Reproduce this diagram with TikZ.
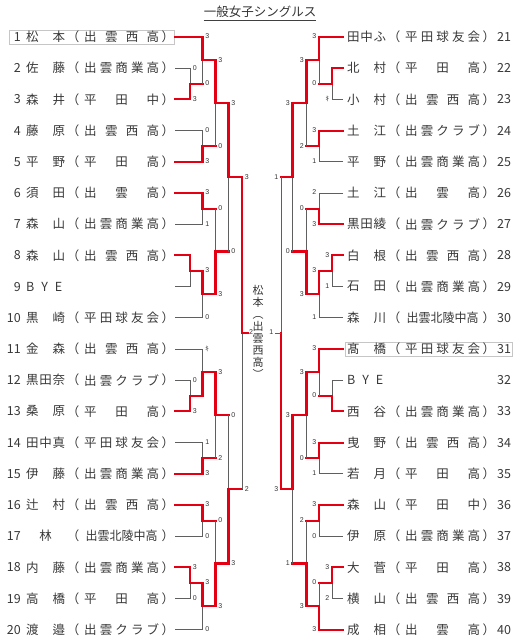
\documentclass[tikz,border=0pt]{standalone}
\usepackage{fontspec}
\usepackage{graphicx}
\setmainfont{Noto Sans CJK JP}
\newfontfamily\jpfont{Noto Sans CJK JP}
\newfontfamily\scfont{Liberation Sans}
\usetikzlibrary{calc}
\definecolor{winred}{RGB}{228,0,18}
\definecolor{losegray}{RGB}{95,95,95}
\tikzset{
  win/.style={draw=winred, line width=2.1pt, line cap=rect},
  lose/.style={draw=losegray, line width=0.8pt},
  score/.style={font=\scfont\fontsize{7}{7}\selectfont, text=black!80, inner sep=0pt},
  ptext/.style={font=\fontsize{12.5}{12.5}\selectfont, text=black!78, inner sep=0pt},
  hl/.style={draw=gray!45, line width=0.6pt},
}
\newcommand\NM[1]{\makebox[39pt][s]{#1}}
\newcommand\SC[1]{\makebox[75pt][s]{#1}}
\newcommand\kiken{{\jpfont\fontsize{7}{7}\selectfont ｷ}}
\newcommand\Lrow[3]{%
  \pgfmathsetmacro\yy{37+(#1-1)*31.2}%
  \node[ptext, anchor=east] (num#1) at (21,\yy) {#1};
  \node[ptext, anchor=west] (nam#1) at (26,\yy) {#2};
  \node[ptext, anchor=east] (lpa#1) at (79.5,\yy) {（};
  \node[ptext, anchor=west] (sch#1) at (84,\yy) {\SC{#3}};
  \node[ptext, anchor=west] (rpa#1) at (161.5,\yy) {）};
  \coordinate (p#1) at (175,\yy);
}
\newcommand\Rrow[3]{%
  \pgfmathsetmacro\yy{37+(#1-21)*31.2}%
  \node[ptext, anchor=west] (nam#1) at (347,\yy) {#2};
  \node[ptext, anchor=east] (lpa#1) at (400.5,\yy) {（};
  \node[ptext, anchor=west] (sch#1) at (405,\yy) {\SC{#3}};
  \node[ptext, anchor=west] (rpa#1) at (482.5,\yy) {）};
  \node[ptext, anchor=west] (num#1) at (497,\yy) {#1};
  \coordinate (p#1) at (343,\yy);
}
\newcommand\Lbye[1]{%
  \pgfmathsetmacro\yy{37+(#1-1)*31.2}%
  \node[ptext, anchor=east] (num#1) at (21,\yy) {#1};
  \node[ptext, anchor=west] (nam#1) at (26,\yy) {\makebox[36pt][s]{B\hfill Y\hfill E}};
  \coordinate (p#1) at (175,\yy);
}
\newcommand\Rbye[1]{%
  \pgfmathsetmacro\yy{37+(#1-21)*31.2}%
  \node[ptext, anchor=west] (nam#1) at (347,\yy) {\makebox[36pt][s]{B\hfill Y\hfill E}};
  \node[ptext, anchor=west] (num#1) at (497,\yy) {#1};
  \coordinate (p#1) at (343,\yy);
}
% match: #1 column, #2 top, #3 bottom, #4 winner 1/2, #5 out, #6 loser line style, #7 #8 scores
\newcommand\mL[8]{%
  \coordinate (#5) at ($(#2 -| #1)!0.5!(#3 -| #1)$);
  \ifnum#4=1
    \draw[#6] (#3) -- (#3 -| #1);
    \draw[lose] (#5) -- (#3 -| #1);
    \draw[win] (#2) -- (#2 -| #1) -- (#5);
  \else
    \draw[#6] (#2) -- (#2 -| #1);
    \draw[lose] (#5) -- (#2 -| #1);
    \draw[win] (#3) -- (#3 -| #1) -- (#5);
  \fi
  \node[score, anchor=west] (#5t) at ($(#2 -| #1)+(2.6,-0.5)$) {#7};
  \node[score, anchor=west] (#5b) at ($(#3 -| #1)+(2.6,-0.5)$) {#8};
}
\newcommand\mR[8]{%
  \coordinate (#5) at ($(#2 -| #1)!0.5!(#3 -| #1)$);
  \ifnum#4=1
    \draw[#6] (#3) -- (#3 -| #1);
    \draw[lose] (#5) -- (#3 -| #1);
    \draw[win] (#2) -- (#2 -| #1) -- (#5);
  \else
    \draw[#6] (#2) -- (#2 -| #1);
    \draw[lose] (#5) -- (#2 -| #1);
    \draw[win] (#3) -- (#3 -| #1) -- (#5);
  \fi
  \node[score, anchor=east] (#5t) at ($(#2 -| #1)+(-2.6,-0.5)$) {#7};
  \node[score, anchor=east] (#5b) at ($(#3 -| #1)+(-2.6,-0.5)$) {#8};
}
\begin{document}
\begin{tikzpicture}[x=1pt,y=-1pt]
\useasboundingbox (0,0) rectangle (520,643);
\node[font=\fontsize{12.5}{12.5}\selectfont, text=black!80, inner sep=0pt] (title) at (260,12) {一般女子シングルス};
\draw[line width=0.6pt, black!75] ($(title.south west)+(0,2)$) -- ($(title.south east)+(0,2)$);
% highlight boxes
\draw[hl] (9,30) rectangle (174,44);
\draw[hl] (345,342) rectangle (512,356);
% columns
\coordinate (ca) at (190,0);
\coordinate (cb) at (202.5,0);
\coordinate (cc) at (215.5,0);
\coordinate (cd) at (228.5,0);
\coordinate (ce) at (242,0);
\coordinate (ra) at (332,0);
\coordinate (rb) at (319,0);
\coordinate (rc) at (306.5,0);
\coordinate (rd) at (292.5,0);
\coordinate (re) at (281,0);
% left players
\Lrow{1}{\NM{松\hfill 本}}{出\hfill 雲\hfill 西\hfill 高}
\Lrow{2}{\NM{佐\hfill 藤}}{出\hfill 雲\hfill 商\hfill 業\hfill 高}
\Lrow{3}{\NM{森\hfill 井}}{平\hfill 田\hfill 中}
\Lrow{4}{\NM{藤\hfill 原}}{出\hfill 雲\hfill 西\hfill 高}
\Lrow{5}{\NM{平\hfill 野}}{平\hfill 田\hfill 高}
\Lrow{6}{\NM{須\hfill 田}}{出\hfill 雲\hfill 高}
\Lrow{7}{\NM{森\hfill 山}}{出\hfill 雲\hfill 商\hfill 業\hfill 高}
\Lrow{8}{\NM{森\hfill 山}}{出\hfill 雲\hfill 西\hfill 高}
\Lbye{9}
\Lrow{10}{\NM{黒\hfill 崎}}{平\hfill 田\hfill 球\hfill 友\hfill 会}
\Lrow{11}{\NM{金\hfill 森}}{出\hfill 雲\hfill 西\hfill 高}
\Lrow{12}{\NM{黒\hfill 田\hfill 奈}}{出\hfill 雲\hfill ク\hfill ラ\hfill ブ}
\Lrow{13}{\NM{桑\hfill 原}}{平\hfill 田\hfill 高}
\Lrow{14}{\NM{田\hfill 中\hfill 真}}{平\hfill 田\hfill 球\hfill 友\hfill 会}
\Lrow{15}{\NM{伊\hfill 藤}}{出\hfill 雲\hfill 商\hfill 業\hfill 高}
\Lrow{16}{\NM{辻\hfill 村}}{出\hfill 雲\hfill 西\hfill 高}
\Lrow{17}{\makebox[39pt][c]{林}}{\hfill\scalebox{0.96}[1]{出雲北陵中高}\hfill}
\Lrow{18}{\NM{内\hfill 藤}}{出\hfill 雲\hfill 商\hfill 業\hfill 高}
\Lrow{19}{\NM{高\hfill 橋}}{平\hfill 田\hfill 高}
\Lrow{20}{\NM{渡\hfill 邉}}{出\hfill 雲\hfill ク\hfill ラ\hfill ブ}
% right players
\Rrow{21}{\NM{田\hfill 中\hfill ふ}}{平\hfill 田\hfill 球\hfill 友\hfill 会}
\Rrow{22}{\NM{北\hfill 村}}{平\hfill 田\hfill 高}
\Rrow{23}{\NM{小\hfill 村}}{出\hfill 雲\hfill 西\hfill 高}
\Rrow{24}{\NM{土\hfill 江}}{出\hfill 雲\hfill ク\hfill ラ\hfill ブ}
\Rrow{25}{\NM{平\hfill 野}}{出\hfill 雲\hfill 商\hfill 業\hfill 高}
\Rrow{26}{\NM{土\hfill 江}}{出\hfill 雲\hfill 高}
\Rrow{27}{\NM{黒\hfill 田\hfill 綾}}{出\hfill 雲\hfill ク\hfill ラ\hfill ブ}
\Rrow{28}{\NM{白\hfill 根}}{出\hfill 雲\hfill 西\hfill 高}
\Rrow{29}{\NM{石\hfill 田}}{出\hfill 雲\hfill 商\hfill 業\hfill 高}
\Rrow{30}{\NM{森\hfill 川}}{\hfill\scalebox{0.96}[1]{出雲北陵中高}\hfill}
\Rrow{31}{\NM{髙\hfill 橋}}{平\hfill 田\hfill 球\hfill 友\hfill 会}
\Rbye{32}
\Rrow{33}{\NM{西\hfill 谷}}{出\hfill 雲\hfill 商\hfill 業\hfill 高}
\Rrow{34}{\NM{曳\hfill 野}}{出\hfill 雲\hfill 西\hfill 高}
\Rrow{35}{\NM{若\hfill 月}}{平\hfill 田\hfill 高}
\Rrow{36}{\NM{森\hfill 山}}{平\hfill 田\hfill 中}
\Rrow{37}{\NM{伊\hfill 原}}{出\hfill 雲\hfill 商\hfill 業\hfill 高}
\Rrow{38}{\NM{大\hfill 菅}}{平\hfill 田\hfill 高}
\Rrow{39}{\NM{横\hfill 山}}{出\hfill 雲\hfill 西\hfill 高}
\Rrow{40}{\NM{成\hfill 相}}{出\hfill 雲\hfill 高}
% left bracket
\mL{ca}{p2}{p3}{2}{m1}{lose}{0}{3}
\mL{cb}{p1}{m1}{1}{m2}{win}{3}{0}
\mL{cb}{p4}{p5}{2}{m3}{lose}{0}{3}
\mL{cc}{m2}{m3}{1}{m4}{win}{3}{0}
\mL{cb}{p6}{p7}{1}{m5}{lose}{3}{1}
\mL{ca}{p8}{p9}{1}{m6}{lose}{}{}
\mL{cb}{m6}{p10}{1}{m7}{lose}{3}{0}
\mL{cc}{m5}{m7}{2}{m8}{win}{0}{3}
\mL{cd}{m4}{m8}{1}{m9}{win}{3}{0}
\mL{ca}{p12}{p13}{2}{m10}{lose}{0}{3}
\mL{cb}{p11}{m10}{2}{m11}{lose}{\kiken}{}
\mL{cb}{p14}{p15}{2}{m12}{lose}{1}{3}
\mL{cc}{m11}{m12}{1}{m13}{win}{3}{2}
\mL{cb}{p16}{p17}{1}{m14}{lose}{3}{0}
\mL{ca}{p18}{p19}{1}{m15}{lose}{3}{0}
\mL{cb}{m15}{p20}{1}{m16}{lose}{3}{0}
\mL{cc}{m14}{m16}{2}{m17}{win}{0}{3}
\mL{cd}{m13}{m17}{2}{m18}{win}{0}{3}
\mL{ce}{m9}{m18}{1}{sl}{win}{3}{2}
% right bracket
\mR{ra}{p22}{p23}{1}{r1}{lose}{}{\kiken}
\mR{rb}{p21}{r1}{1}{r2}{win}{3}{0}
\mR{rb}{p24}{p25}{1}{r3}{lose}{3}{1}
\mR{rc}{r2}{r3}{1}{r4}{win}{3}{2}
\mR{rb}{p26}{p27}{2}{r5}{lose}{2}{3}
\mR{ra}{p28}{p29}{1}{r6}{lose}{3}{1}
\mR{rb}{r6}{p30}{1}{r7}{lose}{3}{1}
\mR{rc}{r5}{r7}{2}{r8}{win}{0}{3}
\mR{rd}{r4}{r8}{1}{r9}{win}{3}{0}
\mR{ra}{p32}{p33}{2}{r10}{lose}{}{}
\mR{rb}{p31}{r10}{1}{r11}{win}{3}{0}
\mR{rb}{p34}{p35}{1}{r12}{lose}{3}{1}
\mR{rc}{r11}{r12}{1}{r13}{win}{3}{0}
\mR{rb}{p36}{p37}{1}{r14}{lose}{3}{0}
\mR{ra}{p38}{p39}{1}{r15}{lose}{3}{2}
\mR{rb}{r15}{p40}{2}{r16}{win}{0}{3}
\mR{rc}{r14}{r16}{2}{r17}{win}{2}{3}
\mR{rd}{r13}{r17}{1}{r18}{win}{3}{1}
\mR{re}{r9}{r18}{2}{sr}{win}{1}{3}
% final
\coordinate (finL) at ($(sl)+(5.5,0)$);
\draw[win] (sl) -- (finL);
\node[score, anchor=west] (fsl) at ($(finL)+(1.5,-1.5)$) {2};
\coordinate (finR) at ($(sr)+(-6,0)$);
\draw[lose] (sr) -- (finR);
\node[score, anchor=east] (fsr) at ($(finR)+(-1.5,-1.5)$) {1};
\node[font=\fontsize{11}{12}\selectfont, text=black!80, align=center, inner sep=0pt] (champ) at (258,332) {松\\本\\︵\\出\\雲\\西\\高\\︶};
\end{tikzpicture}
\end{document}
